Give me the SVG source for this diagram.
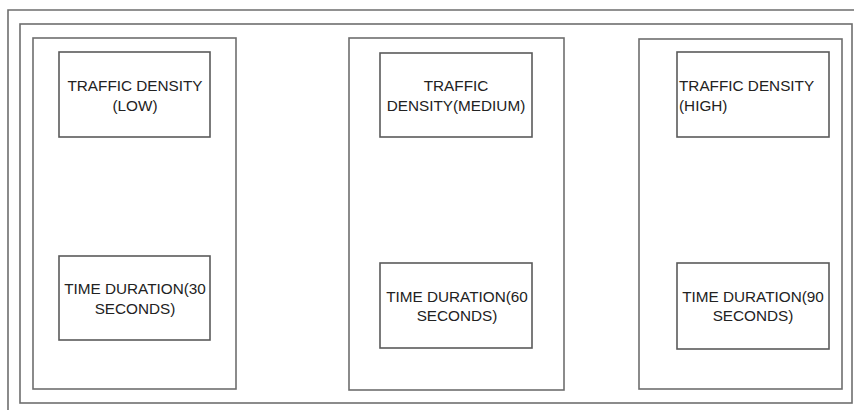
<svg xmlns="http://www.w3.org/2000/svg" width="854" height="410" viewBox="0 0 854 410">
<style>
.frame{fill:none;stroke:#6e6e6e;stroke-width:1.6}
.box{fill:#fff;stroke:#5a5a5a;stroke-width:1.6}
.lbl{font-family:"Liberation Sans",Arial,sans-serif;font-size:15.3px;fill:#222;text-anchor:middle}
.left{text-anchor:start}
</style>
<rect width="854" height="410" fill="#fff"/>
<g id="frames">
<path class="frame" d="M8,412 V10 H856"/>
<rect class="frame" x="20" y="24" width="832" height="379"/>
</g>
<g id="panel-low">
<rect class="frame" x="33" y="38" width="203" height="351"/>
</g>
<g id="panel-medium">
<rect class="frame" x="349" y="38" width="215" height="352"/>
</g>
<g id="panel-high">
<rect class="frame" x="639" y="39" width="203" height="350"/>
</g>
<g id="connectors"></g>
<g id="density-low">
<rect class="box" x="59" y="52" width="151" height="85"/>
<text class="lbl" x="135" y="91">TRAFFIC DENSITY</text>
<text class="lbl" x="135" y="111">(LOW)</text>
</g>
<g id="time-30">
<rect class="box" x="59" y="256" width="151" height="84"/>
<text class="lbl" x="135" y="294">TIME DURATION(30</text>
<text class="lbl" x="135" y="314">SECONDS)</text>
</g>
<g id="density-medium">
<rect class="box" x="380" y="53" width="152" height="84"/>
<text class="lbl" x="456" y="91">TRAFFIC</text>
<text class="lbl" x="456" y="111">DENSITY(MEDIUM)</text>
</g>
<g id="time-60">
<rect class="box" x="380" y="263" width="152" height="85"/>
<text class="lbl" x="457" y="302">TIME DURATION(60</text>
<text class="lbl" x="457" y="321">SECONDS)</text>
</g>
<g id="density-high">
<rect class="box" x="677" y="52" width="152" height="85"/>
<text class="lbl left" x="679" y="91">TRAFFIC DENSITY</text>
<text class="lbl left" x="679" y="111">(HIGH)</text>
</g>
<g id="time-90">
<rect class="box" x="677" y="263" width="152" height="86"/>
<text class="lbl" x="753" y="302">TIME DURATION(90</text>
<text class="lbl" x="753" y="321">SECONDS)</text>
</g>
</svg>
